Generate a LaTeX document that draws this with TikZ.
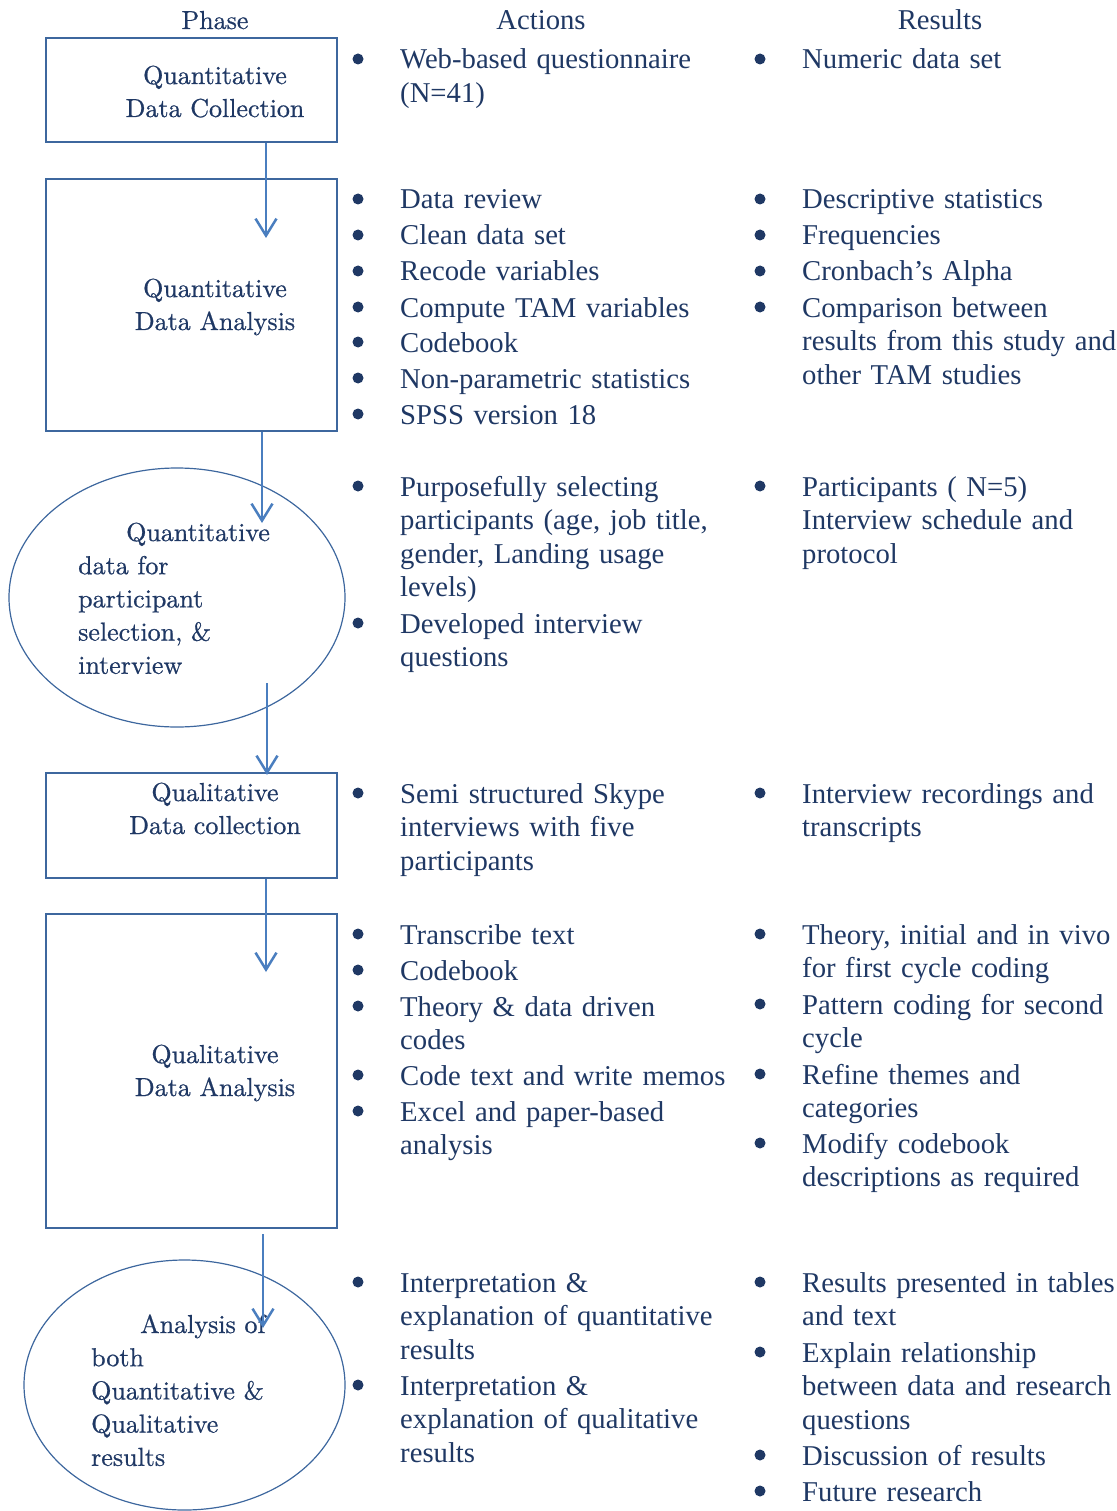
\documentclass[tikz,border=0pt]{standalone}
\usepackage{fontspec}
\newfontfamily\tnr{Liberation Serif}
\newfontfamily\gara{lmroman10-regular.otf}[FakeBold=0.7]
\usetikzlibrary{arrows.meta,shapes.geometric}
\definecolor{ink}{HTML}{1F3864}
\definecolor{frame}{HTML}{3D679E}
\definecolor{flow}{HTML}{4A7EBF}

% bullet entry: name, x of text, y of first line centre, text
\newcommand\entry[4]{%
  \fill[ink] (#2-42,#3) circle[radius=5.5pt];
  \node[item] (#1) at (#2,#3+10) {#4};}

\begin{document}
\begin{tikzpicture}[x=1pt,y=-1pt,
  phasebox/.style={draw=frame, line width=2pt, minimum width=291pt, inner sep=0pt},
  phaseoval/.style={ellipse, draw=frame, line width=1.2pt, inner sep=0pt},
  phasetext/.style={text=ink, font=\gara\fontsize{26}{33}\selectfont, align=center,
    text width=300pt, inner sep=0pt, anchor=base},
  ovaltext/.style={text=ink, font=\gara\fontsize{26}{33.2}\selectfont, align=left,
    text width=260pt, inner sep=0pt, anchor=base west},
  head/.style={text=ink, inner sep=0pt, anchor=base},
  item/.style={text=ink, font=\tnr\fontsize{28.7}{33.5}\selectfont, align=left,
    text width=420pt, inner sep=0pt, anchor=base west},
  flowarrow/.style={draw=flow, line width=2.5pt,
    -{Straight Barb[length=17pt, width=21pt]}}]
\useasboundingbox (0,0) rectangle (1116,1511);

% column headings
\node[head, font=\gara\fontsize{26}{33}\selectfont] (hphase) at (215,29) {Phase};
\node[head, font=\tnr\fontsize{28.7}{33.5}\selectfont] (hact) at (541,30) {Actions};
\node[head, font=\tnr\fontsize{28.7}{33.5}\selectfont] (hres) at (940,30) {Results};

% phase shapes
\node[phasebox, minimum height=104pt] (b1) at (191.5,90) {};
\node[phasebox, minimum height=252pt] (b2) at (191.5,305) {};
\node[phaseoval, minimum width=336pt, minimum height=259pt] (e1) at (177,597.5) {};
\node[phasebox, minimum height=105pt] (b3) at (191.5,825.5) {};
\node[phasebox, minimum height=314pt] (b4) at (191.5,1071) {};
\node[phaseoval, minimum width=321pt, minimum height=250pt] (e2) at (184.5,1385) {};

% phase labels
\node[phasetext] (p1) at (215,84) {Quantitative\\Data Collection};
\node[phasetext] (p2) at (215,297) {Quantitative\\Data Analysis};
\node[ovaltext] (p3) at (78,541) {\hspace*{48pt}Quantitative\\data for\\participant\\selection, \&\\interview};
\node[phasetext] (p4) at (215,801) {Qualitative\\Data collection};
\node[phasetext] (p5) at (215,1063) {Qualitative\\Data Analysis};
\node[ovaltext] (p6) at (91,1333) {\hspace*{49pt}Analysis of\\both\\Quantitative \&\\Qualitative\\results};

% flow arrows
\coordinate (t1) at (266,238);
\coordinate (t2) at (262,523);
\coordinate (s3) at (267,683);
\coordinate (t3) at (267,775);
\coordinate (t4) at (266,972);
\coordinate (s5) at (263,1234);
\coordinate (t5) at (263,1328);
\draw[flowarrow] (b1.south -| t1) -- (t1);
\draw[flowarrow] (b2.south -| t2) -- (t2);
\draw[flowarrow] (s3) -- (t3);
\draw[flowarrow] (b3.south -| t4) -- (t4);
\draw[flowarrow] (s5) -- (t5);

% actions
\entry{a1}{400}{59}{Web-based questionnaire\\(N=41)}
\entry{a2}{400}{199}{Data review}
\entry{a3}{400}{235}{Clean data set}
\entry{a4}{400}{271}{Recode variables}
\entry{a5}{400}{307}{Compute TAM variables}
\entry{a6}{400}{342}{Codebook}
\entry{a7}{400}{378}{Non-parametric statistics}
\entry{a8}{400}{414}{SPSS version 18}
\entry{a9}{400}{486}{Purposefully selecting\\participants (age, job title,\\gender, Landing usage\\levels)}
\entry{a10}{400}{623}{Developed interview\\questions}
\entry{a11}{400}{793}{Semi structured Skype\\interviews with five\\participants}
\entry{a12}{400}{934}{Transcribe text}
\entry{a13}{400}{970}{Codebook}
\entry{a14}{400}{1006}{Theory \& data driven\\codes}
\entry{a15}{400}{1075}{Code text and write memos}
\entry{a16}{400}{1111}{Excel and paper-based\\analysis}
\entry{a17}{400}{1282}{Interpretation \&\\explanation of quantitative\\results}
\entry{a18}{400}{1385}{Interpretation \&\\explanation of qualitative\\results}

% results
\entry{r1}{802}{59}{Numeric data set}
\entry{r2}{802}{199}{Descriptive statistics}
\entry{r3}{802}{235}{Frequencies}
\entry{r4}{802}{271}{Cronbach’s Alpha}
\entry{r5}{802}{307}{Comparison between\\results from this study and\\other TAM studies}
\entry{r6}{802}{486}{Participants ( N=5)\\Interview schedule and\\protocol}
\entry{r7}{802}{793}{Interview recordings and\\transcripts}
\entry{r8}{802}{934}{Theory, initial and in vivo\\for first cycle coding}
\entry{r9}{802}{1004}{Pattern coding for second\\cycle}
\entry{r10}{802}{1074}{Refine themes and\\categories}
\entry{r11}{802}{1143}{Modify codebook\\descriptions as required}
\entry{r12}{802}{1282}{Results presented in tables\\and text}
\entry{r13}{802}{1352}{Explain relationship\\between data and research\\questions}
\entry{r14}{802}{1455}{Discussion of results}
\entry{r15}{802}{1491}{Future research}
\end{tikzpicture}
\end{document}
